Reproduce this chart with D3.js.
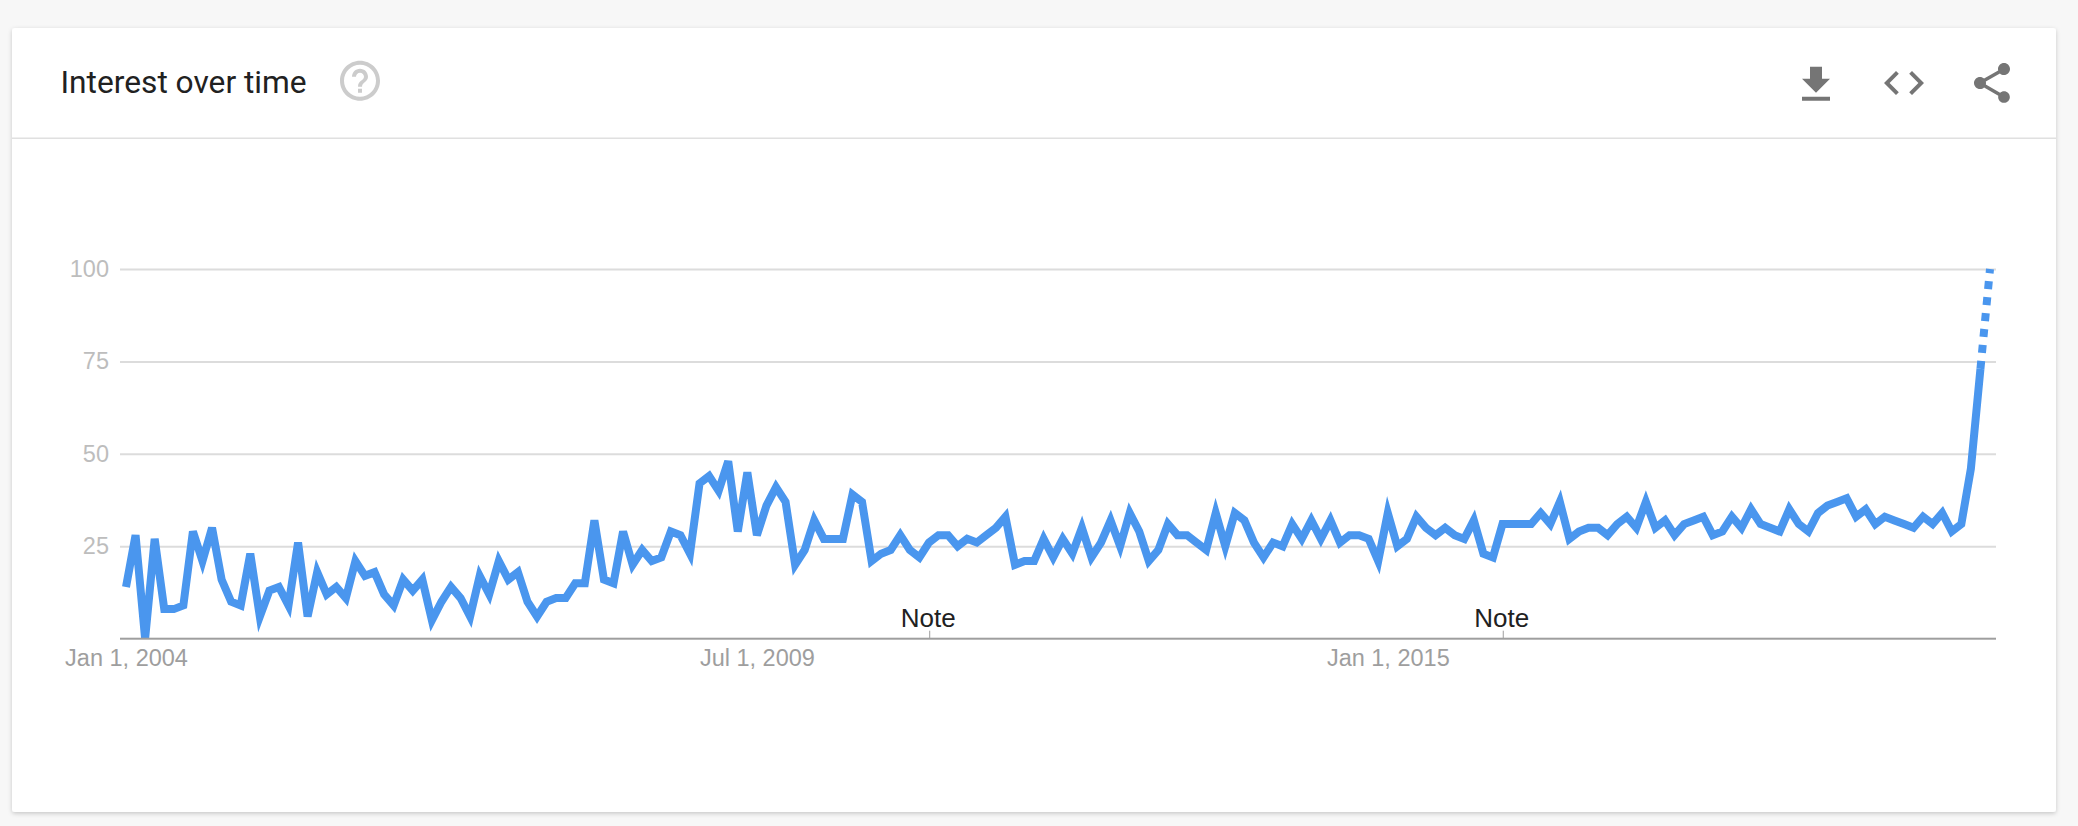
<!DOCTYPE html>
<html><head><meta charset="utf-8">
<script src="https://cdn.jsdelivr.net/npm/d3@7"></script>
<style>
html,body{margin:0;padding:0;background:#f7f7f7;width:2078px;height:826px;overflow:hidden}
svg{display:block}
</style></head><body>
<svg id="c" width="2078" height="826"></svg>
<script>
const title = "Interest over time";
const noteLabel = "Note";
const yTicks = [25, 50, 75, 100];
const xTickLabels = ["Jan 1, 2004", "Jul 1, 2009", "Jan 1, 2015"];
const xTickIndex = [0, 66, 132];
const noteIndex = [84.08, 144.08];
const values = [
14,28,0,27,8,8,9,29,21,30,16,10,9,23,6,13,14,9,26,6,
18,12,14,11,21,17,18,12,9,16,13,16,5,10,14,11,6,17,12,21,
16,18,10,6,10,11,11,15,15,32,16,15,29,20,24,21,22,29,28,23,
42,44,40,48,29,45,28,36,41,37,20,24,32,27,27,27,39,37,21,23,
24,28,24,22,26,28,28,25,27,26,28,30,33,20,21,21,27,22,27,23,
30,22,26,32,25,34,29,21,24,31,28,28,26,24,34,25,34,32,26,22,
26,25,31,27,32,27,32,26,28,28,27,21,34,25,27,33,30,28,30,28,
27,32,23,22,31,31,31,31,34,31,37,27,29,30,30,28,31,33,30,37,
30,32,28,31,32,33,28,29,33,30,35,31,30,29,35,31,29,34,36,37,
38,33,35,31,33,32,31,30,33,31,34,29,31,46,73,100
];
const solidEnd = 194;

(function(){
const left = 120, right = 1996, plotTop = 269, base = 638.7;
const svg = d3.select("#c");
const defs = svg.append("defs");
const f = defs.append("filter").attr("id","sh").attr("x","-2%").attr("y","-2%").attr("width","104%").attr("height","104%");
f.append("feDropShadow").attr("dx",0).attr("dy",1.5).attr("stdDeviation",2).attr("flood-color","#000").attr("flood-opacity",0.2);
defs.append("clipPath").attr("id","plot").append("rect").attr("x",left).attr("y",plotTop-10).attr("width",right-left).attr("height",base-plotTop+10);

svg.append("rect").attr("x",12).attr("y",28).attr("width",2044).attr("height",784).attr("rx",3).attr("fill","#fff").attr("filter","url(#sh)");
svg.append("rect").attr("x",12).attr("y",137.5).attr("width",2044).attr("height",1.5).attr("fill","#e0e0e0");

svg.append("text").attr("x",60.5).attr("y",92.5).text(title)
  .attr("font-family","Roboto").attr("font-size",31.7).attr("fill","#212121");

svg.append("path").attr("transform","translate(336,56.7) scale(2)").attr("fill","#cccccc")
  .attr("d","M11 18h2v-2h-2v2zm1-16C6.48 2 2 6.48 2 12s4.48 10 10 10 10-4.48 10-10S17.52 2 12 2zm0 18c-4.41 0-8-3.59-8-8s3.59-8 8-8 8 3.59 8 8-3.59 8-8 8zm0-14c-2.21 0-4 1.79-4 4h2c0-1.1.9-2 2-2s2 .9 2 2c0 2-3 1.75-3 5h2c0-2.25 3-2.5 3-5 0-2.21-1.79-4-4-4z");
svg.append("path").attr("transform","translate(1792,60.7) scale(2)").attr("fill","#757575")
  .attr("d","M19 9h-4V3H9v6H5l7 7 7-7zM5 18v2h14v-2H5z");
svg.append("path").attr("transform","translate(1880,59) scale(2)").attr("fill","#757575")
  .attr("d","M9.4 16.6L4.8 12l4.6-4.6L8 6l-6 6 6 6 1.4-1.4zm5.2 0l4.6-4.6-4.6-4.6L16 6l6 6-6 6-1.4-1.4z");
svg.append("path").attr("transform","translate(1968,59) scale(2)").attr("fill","#757575")
  .attr("d","M18 16.08c-.76 0-1.44.3-1.96.77L8.91 12.7c.05-.23.09-.46.09-.7s-.04-.47-.09-.7l7.05-4.11c.54.5 1.25.81 2.04.81 1.66 0 3-1.34 3-3s-1.34-3-3-3-3 1.34-3 3c0 .24.04.47.09.7L8.04 9.81C7.5 9.31 6.79 9 6 9c-1.66 0-3 1.34-3 3s1.34 3 3 3c.79 0 1.5-.31 2.04-.81l7.12 4.16c-.05.21-.08.43-.08.65 0 1.61 1.31 2.92 2.92 2.92 1.61 0 2.92-1.31 2.92-2.92s-1.31-2.92-2.92-2.92z");

const x = d3.scaleLinear().domain([0, values.length-1]).range([126, 1990]);
const y = d3.scaleLinear().domain([0,100]).range([base, plotTop]);

const gy = svg.append("g").attr("transform",`translate(${left},0)`)
  .call(d3.axisLeft(y).tickValues(yTicks).tickSize(-(right-left)).tickPadding(11));
gy.select(".domain").remove();
gy.selectAll("line").attr("stroke","#dcdcdc").attr("stroke-width",2);
gy.selectAll("text").attr("font-family","'Liberation Sans'").attr("font-size",23.5).attr("fill","#bdbdbd");

const plot = svg.append("g").attr("clip-path","url(#plot)");
const seg = d3.line().x(d=>x(d)).y(d=>y(values[d]));
plot.append("path").attr("d", seg(d3.range(0, solidEnd+1)))
  .attr("fill","none").attr("stroke","#4a96ee").attr("stroke-width",8).attr("stroke-miterlimit",4.3);
plot.append("path").attr("d", seg(d3.range(solidEnd, values.length)))
  .attr("fill","none").attr("stroke","#4a96ee").attr("stroke-width",8).attr("stroke-dasharray","8 8");

const gx = svg.append("g").attr("transform",`translate(0,${base})`)
  .call(d3.axisBottom(x).tickValues(xTickIndex).tickSize(0).tickPadding(11).tickFormat((d,i)=>xTickLabels[i]));
gx.select(".domain").remove();
gx.selectAll("text").attr("font-family","'Liberation Sans'").attr("font-size",23.5).attr("fill","#9e9e9e");
svg.append("rect").attr("x",left).attr("y",base-1).attr("width",right-left).attr("height",2).attr("fill","#9e9e9e");

const notes = svg.append("g").selectAll("g").data(noteIndex).join("g")
  .attr("transform",d=>`translate(${x(d)},${base})`);
notes.append("line").attr("y1",-8).attr("y2",0).attr("stroke","#9e9e9e").attr("stroke-width",1);
notes.append("text").attr("x",-1.5).attr("y",-12).attr("text-anchor","middle").text(noteLabel)
  .attr("font-family","'Liberation Sans'").attr("font-size",26).attr("fill","#212121");
})();
</script></body></html>
